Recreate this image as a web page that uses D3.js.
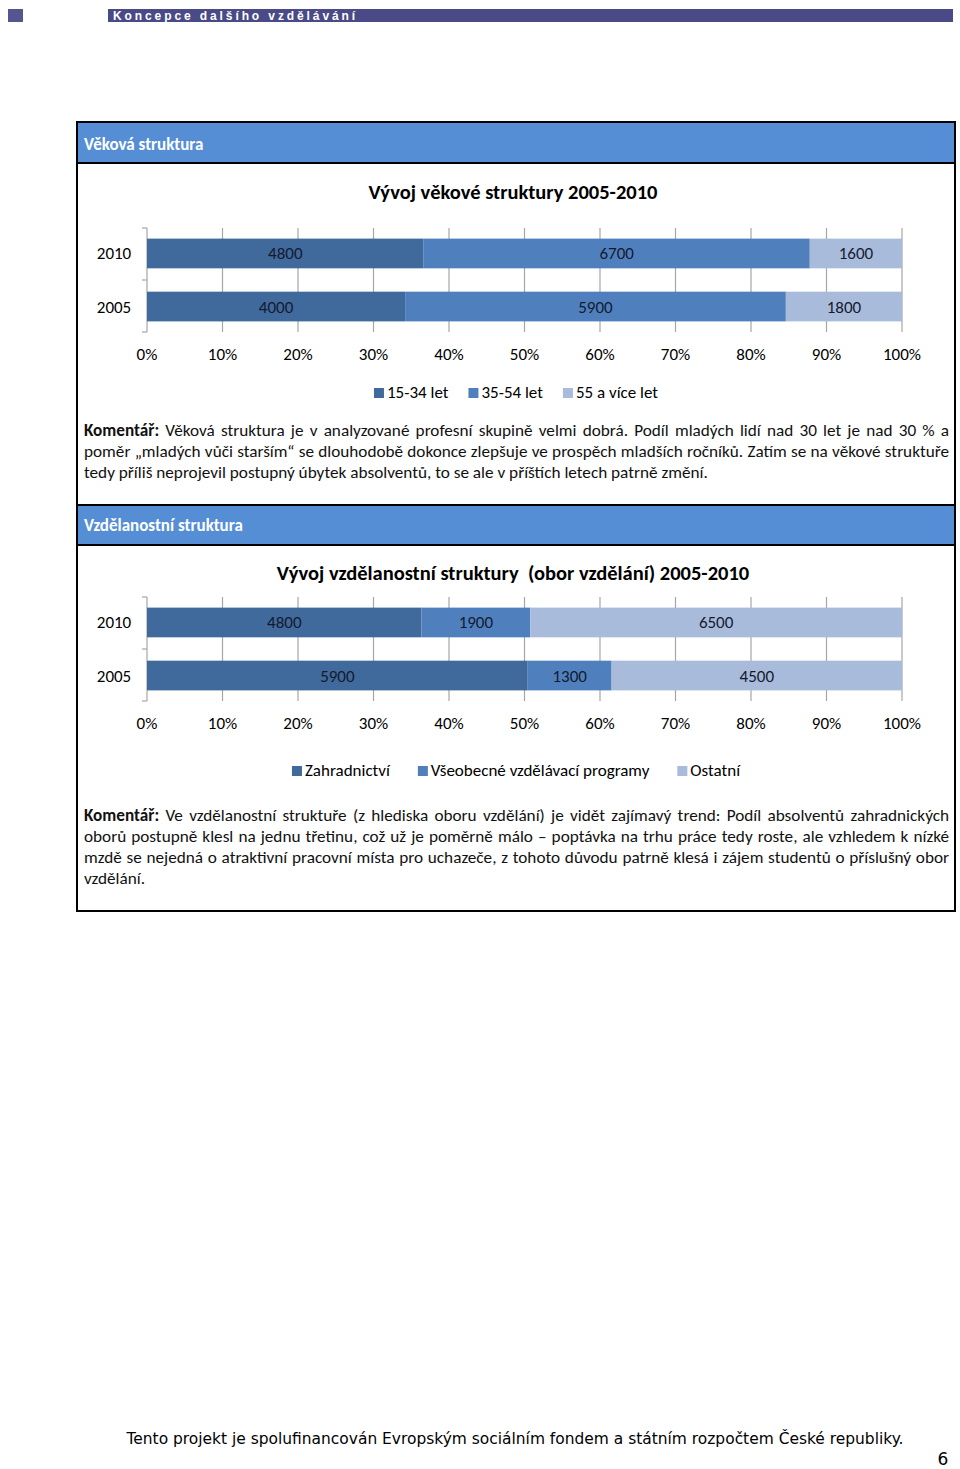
<!DOCTYPE html>
<html><head><meta charset="utf-8">
<script src="https://cdn.jsdelivr.net/npm/d3@7"></script>
<style>
html,body{margin:0;padding:0;background:#fff;}
body{width:960px;height:1469px;position:relative;overflow:hidden;font-family:Carlito,Calibri,Lato,"Noto Sans",sans-serif;}
svg{position:absolute;left:0;top:0;}
.para{position:absolute;left:84px;width:865px;font-size:17.2px;color:#111;}
.para div{height:21px;line-height:21px;text-align:justify;text-align-last:justify;white-space:nowrap;}
.para div.last{text-align-last:left;}
</style></head>
<body>
<svg id="page" width="960" height="1469"></svg>
<script>
// ---------- data ----------
const years = ["2010", "2005"];
const ageSeries = ["15-34 let", "35-54 let", "55 a více let"];
const age2010 = [4800, 6700, 1600];
const age2005 = [4000, 5900, 1800];
const eduSeries = ["Zahradnictví", "Všeobecné vzdělávací programy", "Ostatní"];
const edu2010 = [4800, 1900, 6500];
const edu2005 = [5900, 1300, 4500];
const tickValues = [0, 0.1, 0.2, 0.3, 0.4, 0.5, 0.6, 0.7, 0.8, 0.9, 1.0];
const tickLabels = ["0%", "10%", "20%", "30%", "40%", "50%", "60%", "70%", "80%", "90%", "100%"];
const seriesColors = ["#40699c", "#4f80bd", "#a9bbdb"];

const comment1 = [
  "Věková struktura je v analyzované profesní skupině velmi dobrá. Podíl mladých lidí nad 30 let je nad 30 % a",
  "poměr „mladých vůči starším“ se dlouhodobě dokonce zlepšuje ve prospěch mladších ročníků. Zatím se na věkové struktuře",
  "tedy příliš neprojevil postupný úbytek absolventů, to se ale v příštích letech patrně změní."
];
const comment2 = [
  "Ve vzdělanostní struktuře (z hlediska oboru vzdělání) je vidět zajímavý trend: Podíl absolventů zahradnických",
  "oborů postupně klesl na jednu třetinu, což už je poměrně málo – poptávka na trhu práce tedy roste, ale vzhledem k nízké",
  "mzdě se nejedná o atraktivní pracovní místa pro uchazeče, z tohoto důvodu patrně klesá i zájem studentů o příslušný obor",
  "vzdělání."
];

const svg = d3.select("#page");
const FONT = "Carlito, Calibri, Lato, 'Noto Sans', sans-serif";

// ---------- page header ----------
svg.append("rect").attr("x", 8).attr("y", 9).attr("width", 15).attr("height", 13).attr("fill", "#55568f");
svg.append("rect").attr("x", 108).attr("y", 9).attr("width", 845).attr("height", 13).attr("fill", "#4a4a87");
svg.append("text").attr("x", 113).attr("y", 20).attr("fill", "#fff")
  .attr("font-family", "'Liberation Sans', Arial, sans-serif").attr("font-weight", "bold")
  .attr("font-size", 12).attr("letter-spacing", 2.9).text("Koncepce dalšího vzdělávání");

// ---------- boxes ----------
const box = svg.append("g");
box.append("rect").attr("x", 77).attr("y", 122).attr("width", 878).attr("height", 41).attr("fill", "#558ed5");
box.append("rect").attr("x", 77).attr("y", 505).attr("width", 878).attr("height", 40).attr("fill", "#558ed5");
box.append("rect").attr("x", 77).attr("y", 122).attr("width", 878).attr("height", 789)
  .attr("fill", "none").attr("stroke", "#000").attr("stroke-width", 2);
[163, 505, 545].forEach(y => box.append("line").attr("x1", 77).attr("x2", 955).attr("y1", y).attr("y2", y)
  .attr("stroke", "#000").attr("stroke-width", 2));
box.append("text").attr("x", 84).attr("y", 150).attr("fill", "#fff").attr("font-family", FONT)
  .attr("font-weight", "bold").attr("font-size", 17).text("Věková struktura");
box.append("text").attr("x", 84).attr("y", 531).attr("fill", "#fff").attr("font-family", FONT)
  .attr("font-weight", "bold").attr("font-size", 17).text("Vzdělanostní struktura");

// ---------- chart ----------
function drawChart(cfg) {
  const g = svg.append("g").attr("font-family", FONT);
  const x = d3.scaleLinear().domain([0, 1]).range([147, 902]);
  const y = d3.scaleBand().domain(years).range([cfg.top, cfg.top + 104]).paddingInner(0.44).paddingOuter(0.2);
  const rows = years.map((yr, i) => {
    const o = { year: yr };
    cfg.series.forEach((s, j) => o[s] = cfg.values[i][j]);
    return o;
  });
  const stacked = d3.stack().keys(cfg.series).offset(d3.stackOffsetExpand)(rows);

  g.append("text").attr("x", 513).attr("y", cfg.titleY).attr("text-anchor", "middle")
    .style("white-space", "pre")
    .attr("font-weight", "bold").attr("font-size", 20.5).attr("fill", "#000").text(cfg.title);

  // gridlines
  g.append("g").selectAll("line").data(tickValues.slice(1)).join("line")
    .attr("x1", d => x(d)).attr("x2", d => x(d))
    .attr("y1", cfg.top).attr("y2", cfg.top + 104)
    .attr("stroke", "#a6a6a6").attr("stroke-width", 1.2);

  // y axis
  const yAxis = g.append("g");
  yAxis.append("line").attr("x1", 147).attr("x2", 147).attr("y1", cfg.top).attr("y2", cfg.top + 104)
    .attr("stroke", "#a6a6a6").attr("stroke-width", 1.2);
  [cfg.top, cfg.top + 52, cfg.top + 104].forEach(t => yAxis.append("line")
    .attr("x1", 142).attr("x2", 147).attr("y1", t).attr("y2", t).attr("stroke", "#a6a6a6").attr("stroke-width", 1.2));
  yAxis.selectAll("text").data(years).join("text")
    .attr("x", 114).attr("y", d => y(d) + y.bandwidth() / 2 + 6).attr("text-anchor", "middle")
    .attr("font-size", 17).attr("fill", "#000").text(d => d);

  // bars
  stacked.forEach((layer, j) => {
    const lg = g.append("g");
    lg.selectAll("rect").data(layer).join("rect")
      .attr("x", d => x(d[0])).attr("width", d => x(d[1]) - x(d[0]))
      .attr("y", d => y(d.data.year)).attr("height", y.bandwidth())
      .attr("fill", seriesColors[j]);
    lg.selectAll("text").data(layer).join("text")
      .attr("x", d => (x(d[0]) + x(d[1])) / 2).attr("y", d => y(d.data.year) + y.bandwidth() / 2 + 6)
      .attr("text-anchor", "middle").attr("font-size", 17).attr("fill", "#141a2e")
      .text(d => d.data[layer.key]);
  });

  // x tick labels
  g.append("g").selectAll("text").data(tickValues).join("text")
    .attr("x", d => x(d)).attr("y", cfg.top + 132).attr("text-anchor", "middle")
    .attr("font-size", 17).attr("fill", "#000").text((d, i) => tickLabels[i]);

  // legend
  const leg = g.append("g");
  const items = leg.selectAll("g").data(cfg.series).join("g");
  items.append("rect").attr("width", 10).attr("height", 10).attr("y", -10).attr("fill", (d, i) => seriesColors[i]);
  items.append("text").attr("x", 13).attr("font-size", 17).attr("fill", "#000").text(d => d);
  let cx = 0; const pos = [];
  items.each(function () { pos.push(cx); cx += 13 + this.querySelector("text").getComputedTextLength() + cfg.legendGap; });
  const total = cx - cfg.legendGap;
  items.attr("transform", (d, i) => `translate(${516 - total / 2 + pos[i]},${cfg.legendY})`);
}

drawChart({ title: "Vývoj věkové struktury 2005-2010", titleY: 199, top: 228,
  series: ageSeries, values: [age2010, age2005], legendY: 398, legendGap: 20 });
drawChart({ title: "Vývoj vzdělanostní struktury  (obor vzdělání) 2005-2010", titleY: 580, top: 597,
  series: eduSeries, values: [edu2010, edu2005], legendY: 776, legendGap: 28 });

// ---------- comments ----------
function para(lines, top) {
  const p = d3.select("body").append("div").attr("class", "para").style("top", top + "px");
  lines.forEach((l, i) => {
    const d = p.append("div").classed("last", i === lines.length - 1);
    if (i === 0) { d.append("b").text("Komentář:"); d.append("span").text(" " + l); }
    else d.text(l);
  });
}
para(comment1, 420);
para(comment2, 805);

// ---------- footer ----------
svg.append("text").attr("x", 515).attr("y", 1444).attr("text-anchor", "middle")
  .attr("font-family", "'DejaVu Sans', Verdana, sans-serif").attr("font-size", 16).attr("fill", "#000")
  .attr("textLength", 777).attr("lengthAdjust", "spacingAndGlyphs")
  .text("Tento projekt je spolufinancován Evropským sociálním fondem a státním rozpočtem České republiky.");
svg.append("text").attr("x", 943).attr("y", 1465).attr("text-anchor", "middle")
  .attr("font-family", "'DejaVu Sans', Verdana, sans-serif").attr("font-size", 17).attr("fill", "#000").text("6");
</script>
</body></html>
